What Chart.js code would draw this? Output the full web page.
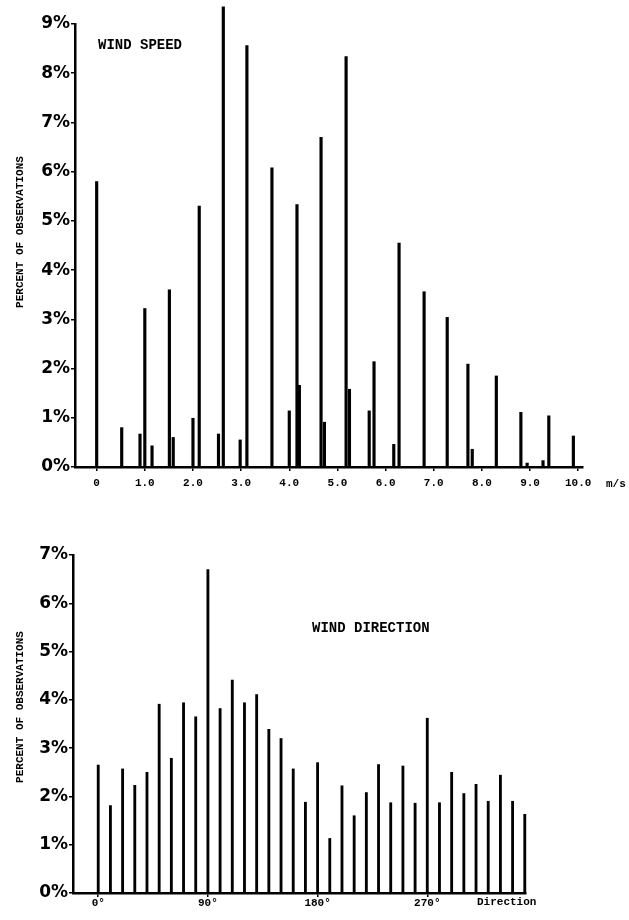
<!DOCTYPE html>
<html>
<head>
<meta charset="utf-8">
<script src="https://cdn.jsdelivr.net/npm/chart.js@4"></script>
<style>
    body { margin: 0; background: #fff; }
    #wrap { position: relative; width: 629px; height: 920px; }
    canvas { position: absolute; left: 0; }
    #speed { top: 0; }
    #direction { top: 500px; }
</style>
</head>
<body>
<div id="wrap">
    <canvas id="speed" width="629" height="500"></canvas>
    <canvas id="direction" width="629" height="420"></canvas>
</div>
<script>
// wind speed (m/s) and percent of observations
const speedValues = [0, 0.52, 0.90, 1.0, 1.15, 1.51, 1.59, 2.0, 2.13, 2.53, 2.63, 2.98, 3.12, 3.64, 4.0, 4.16, 4.21, 4.66, 4.73, 5.18,
    5.25, 5.66, 5.76, 6.17, 6.28, 6.8, 7.28, 7.71, 7.8, 8.3, 8.81, 8.94, 9.27, 9.39, 9.9];
const speedPercent = [5.8, 0.8, 0.67, 3.22, 0.43, 3.6, 0.6, 0.99, 5.3, 0.67, 9.35, 0.55, 8.56, 6.08, 1.14, 5.33, 1.66, 6.7, 0.91, 8.34,
    1.58, 1.14, 2.14, 0.46, 4.55, 3.56, 3.04, 2.09, 0.36, 1.85, 1.11, 0.08, 0.13, 1.04, 0.63];
const speedTicks = [0, 1, 2, 3, 4, 5, 6, 7, 8, 9, 10];
const speedTickLabels = ['0', '1.0', '2.0', '3.0', '4.0', '5.0', '6.0', '7.0', '8.0', '9.0', '10.0'];

// wind direction (degrees) and percent of observations
const directionAngles = [0, 10, 20, 30, 40, 50, 60, 70, 80, 90, 100, 110, 120, 130, 140, 150, 160, 170,
    180, 190, 200, 210, 220, 230, 240, 250, 260, 270, 280, 290, 300, 310, 320, 330, 340, 350];
const directionPercent = [2.65, 1.81, 2.57, 2.23, 2.5, 3.91, 2.79, 3.94, 3.65, 6.7, 3.82, 4.41, 3.94, 4.11, 3.39, 3.2, 2.57, 1.88,
    2.7, 1.13, 2.22, 1.6, 2.08, 2.66, 1.87, 2.63, 1.86, 3.62, 1.87, 2.5, 2.06, 2.25, 1.9, 2.44, 1.9, 1.63];
const directionTicks = [0, 90, 180, 270];
const directionTickLabels = ['0°', '90°', '180°', '270°'];

const MONO = '"Liberation Mono", "DejaVu Sans Mono", monospace';

// draws the free texts (titles, units, rotated y title)
const textPlugin = {
    id: 'texts',
    afterDraw(chart, args, opts) {
        const ctx = chart.ctx;
        (opts.items || []).forEach(t => {
            ctx.save();
            ctx.fillStyle = '#000';
            ctx.font = t.font;
            ctx.textBaseline = 'middle';
            ctx.textAlign = t.align || 'left';
            ctx.translate(t.x, t.y);
            if (t.rotate) ctx.rotate(t.rotate);
            ctx.fillText(t.text, 0, 0);
            ctx.restore();
        });
    }
};

function makeChart(id, opts) {
    const ctx = document.getElementById(id).getContext('2d');
    const points = opts.xs.map((x, i) => ({ x: x, y: opts.ys[i] }));

    return new Chart(ctx, {
        type: 'bar',
        data: {
            datasets: [{
                data: points,
                backgroundColor: '#000',
                borderWidth: 0,
                barThickness: opts.barWidth,
                clip: false
            }]
        },
        options: {
            responsive: false,
            animation: false,
            layout: { padding: opts.padding },
            plugins: {
                legend: { display: false },
                tooltip: { enabled: false },
                texts: { items: opts.texts }
            },
            scales: {
                x: {
                    type: 'linear',
                    offset: false,
                    min: opts.xMin,
                    max: opts.xMax,
                    afterBuildTicks: s => { s.ticks = opts.ticks.map(v => ({ value: v })); },
                    afterFit: s => { s.height = opts.xHeight; },
                    grid: { display: true, offset: false, drawOnChartArea: false, drawTicks: true, tickLength: 4, color: '#000', lineWidth: 1.5 },
                    border: { display: true, color: '#000', width: 2.5 },
                    ticks: {
                        color: '#000',
                        padding: opts.xPad,
                        maxRotation: 0,
                        autoSkip: false,
                        font: { family: MONO, size: 11, weight: 'bold' },
                        callback: (v, i) => opts.tickLabels[i]
                    }
                },
                y: {
                    min: 0,
                    max: opts.yMax,
                    afterFit: s => { s.width = opts.yWidth; },
                    grid: { display: true, drawOnChartArea: false, drawTicks: true, tickLength: 4, color: '#000', lineWidth: 1.5 },
                    border: { display: true, color: '#000', width: 2.5 },
                    ticks: {
                        stepSize: 1,
                        color: '#000',
                        padding: 1,
                        font: { family: '"DejaVu Sans", sans-serif', size: 17, weight: 'bold' },
                        callback: v => v + '%'
                    }
                }
            }
        },
        plugins: [textPlugin]
    });
}

makeChart('speed', {
    xs: speedValues,
    ys: speedPercent,
    barWidth: 2.5,
    xMin: -0.45,
    xMax: 10.1,
    yMax: 9,
    ticks: speedTicks,
    tickLabels: speedTickLabels,
    padding: { top: 24, right: 46, left: 0, bottom: 0 },
    xHeight: 33,
    yWidth: 75,
    xPad: 6,
    texts: [
        { text: 'WIND SPEED', x: 98, y: 45, font: 'bold 14px ' + MONO },
        { text: 'm/s', x: 606, y: 484, font: 'bold 11px ' + MONO },
        { text: 'PERCENT OF OBSERVATIONS', x: 20, y: 232, font: 'bold 11px ' + MONO, align: 'center', rotate: -Math.PI / 2 }
    ]
});

makeChart('direction', {
    xs: directionAngles,
    ys: directionPercent,
    barWidth: 2.2,
    xMin: -20.7,
    xMax: 351,
    yMax: 7,
    ticks: directionTicks,
    tickLabels: directionTickLabels,
    padding: { top: 55, right: 103, left: 0, bottom: 0 },
    xHeight: 27,
    yWidth: 73,
    xPad: 0,
    texts: [
        { text: 'WIND DIRECTION', x: 312, y: 128, font: 'bold 14px ' + MONO },
        { text: 'Direction', x: 477, y: 402, font: 'bold 11px ' + MONO },
        { text: 'PERCENT OF OBSERVATIONS', x: 20, y: 207, font: 'bold 11px ' + MONO, align: 'center', rotate: -Math.PI / 2 }
    ]
});
</script>
</body>
</html>
